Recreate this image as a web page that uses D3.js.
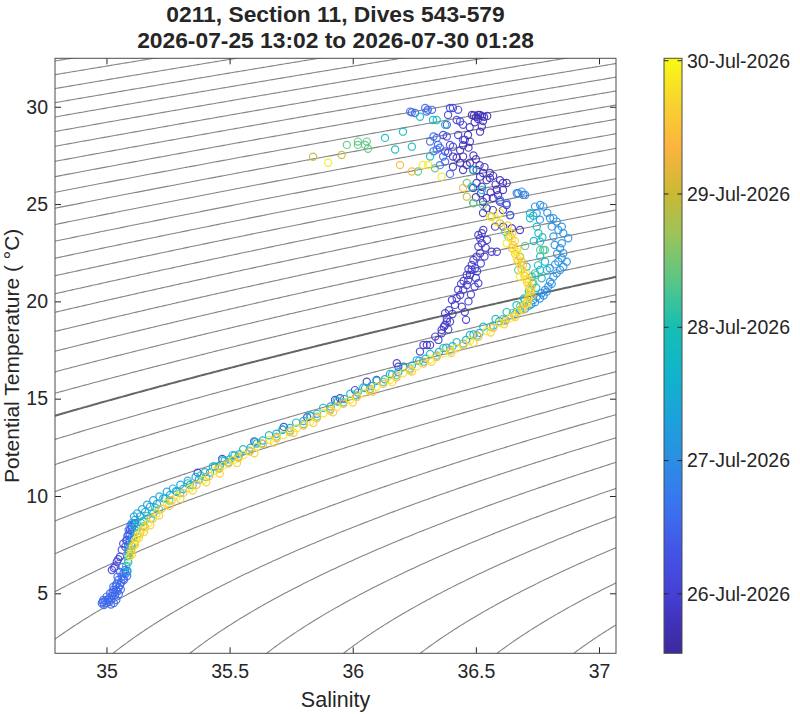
<!DOCTYPE html>
<html>
<head>
<meta charset="utf-8">
<script src="https://cdn.jsdelivr.net/npm/d3@7"></script>
<style>
  body { margin: 0; background: #fff; }
  text { font-family: "Liberation Sans", Arial, Helvetica, sans-serif; fill: #262626; }
</style>
</head>
<body>
<svg id="chart" width="800" height="714"></svg>
<script>
// titles / labels
const titleLines = ["0211, Section 11, Dives 543-579", "2026-07-25 13:02 to 2026-07-30 01:28"];
const xLabel = "Salinity";
const yLabel = "Potential Temperature ( \u00B0C)";

// axes
const salTicks = [35, 35.5, 36, 36.5, 37];
const tempTicks = [5, 10, 15, 20, 25, 30];
const salRange = [34.791, 37.069];
const tempRange = [1.917, 32.49];

// colorbar (time)
const cbarRange = ["2026-07-25T13:18", "2026-07-30T00:26"];
const cbarTicks = ["2026-07-26T00:00", "2026-07-27T00:00", "2026-07-28T00:00", "2026-07-29T00:00", "2026-07-30T00:00"];

// density contours (sigma-theta)
const sigmaLevels = d3.range(20, 30.01, 0.25);
const sigmaBold = 26;

// observations, grouped by dive time : [salinity, potential temperature]
const timeP0 = "2026-07-25T18:40";
const diveP0 = [
  [36.484,29.58],[36.492,29.55],[36.501,29.48],[36.509,29.58],[36.517,29.58],[36.525,29.52],[36.533,29.48],
  [36.546,29.53],[36.509,29.37],[36.529,29.27],[36.524,28.98],[36.517,28.72],[36.476,28.21],[36.468,28.55],
  [36.448,28.02],[36.436,27.76],[36.407,27.44],[36.422,27.38],[36.448,27.44],[36.436,27.12],[36.463,27.01],
  [36.476,27.12],[36.407,26.92],[36.448,26.75],[36.489,26.75],[36.503,26.75],[36.529,26.60],[36.557,26.60],
  [36.517,26.41],[36.544,26.23],[36.557,26.34],[36.598,26.23],[36.610,26.08],[36.625,26.08],[36.503,26.08],
  [36.524,25.89],[36.489,25.83],[36.585,25.72],[36.610,25.72],[36.544,25.31],[36.569,25.31],[36.598,25.12],
  [36.625,24.95],[36.529,25.12],[36.544,24.79],[36.529,24.54],[36.569,24.69],[36.610,24.69],[36.639,24.43],
  [36.578,23.84],[36.611,23.84],[36.646,23.76],[36.679,23.67],
  [36.455,28.30],[36.470,27.90],[36.490,27.50],[36.500,27.30],[36.515,27.00],[36.535,26.90],[36.570,26.45],
  [36.580,26.00],[36.560,25.60],[36.590,25.45],[36.520,25.55],[36.500,25.35],[36.475,28.95],[36.495,29.20]
];

const timeP1 = "2026-07-25T22:00";
const diveP1 = [
  [36.530,23.67],[36.524,23.50],[36.510,23.41],[36.517,23.24],[36.524,22.99],[36.510,22.81],[36.517,22.47],
  [36.503,22.30],[36.490,22.13],[36.483,21.87],[36.497,21.70],[36.483,21.62],[36.476,21.36],[36.463,21.36],
  [36.469,21.10],[36.463,20.84],[36.449,20.59],[36.436,20.33],[36.422,20.16],[36.415,19.82],[36.443,19.73],
  [36.403,20.07],[36.428,20.60],[36.391,19.55],[36.375,19.39],[36.382,19.13],[36.375,18.79],[36.361,18.36],
  [36.335,18.19],[36.301,17.76],[36.510,20.93],[36.564,22.55],[36.585,22.55],
  [36.455,19.45],[36.470,20.00],[36.480,20.35],[36.495,20.75],[36.500,21.20],[36.505,21.55],[36.520,21.95],
  [36.535,22.30],[36.540,22.75],[36.545,23.15],[36.450,21.05],[36.440,20.90],[36.470,21.65],[36.460,19.05],
  [36.405,19.35],[36.395,18.95],[36.388,18.55],
  [36.382,18.96],[36.370,18.70],[36.361,18.53],[36.348,18.02],[36.314,17.76],[36.287,17.76],[36.273,17.42],
  [36.206,16.64],[36.185,16.64],[36.179,16.82],[36.097,15.96],[36.057,15.87],[36.009,15.44],[35.948,15.02],
  [35.928,14.93],[35.815,14.05],[35.720,13.55],[35.600,12.80],[35.470,11.90],[35.370,11.20]
];

const timeP2 = "2026-07-26T02:10";
const diveP2 = [
  [35.022,6.20],[35.030,6.30],[35.035,6.37],[35.042,6.62],[35.055,6.88],[35.062,7.23],[35.076,7.39],
  [35.082,7.74],[35.089,8.00],[35.096,8.25],[35.103,8.42],[35.116,8.60],[35.048,6.75],[35.068,7.55],
  [36.395,29.94],[36.407,29.94],[36.428,29.84],[36.387,29.58],[36.422,29.32],[36.436,29.24],[36.448,29.07],
  [36.382,29.07],[36.367,28.55],[36.382,28.47],[36.428,28.55],[36.395,28.04],[36.375,27.70],[36.387,27.63],
  [36.407,27.95],[36.448,28.30]
];

const timeB0 = "2026-07-26T13:00";
const diveB0 = [
  [36.233,29.75],[36.240,29.72],[36.253,29.68],[36.294,29.94],[36.300,29.75],[36.305,29.85],[36.322,29.84],
  [36.328,28.47],[36.341,28.40],[36.314,28.21],[36.346,28.04],[36.341,27.80],[36.328,27.71],[36.354,27.89],
  [36.375,27.18],[36.367,27.44],[36.354,27.00],[36.395,26.55],
  [36.598,25.21],[36.625,25.04],[36.639,24.44],[36.666,25.56],[36.693,25.47],
  [34.981,4.49],[34.985,4.55],[34.987,4.66],[34.995,4.60],[35.001,4.83],[35.006,4.66],[35.010,4.75],
  [35.015,5.00],[35.023,4.86],[35.028,5.17],[35.028,5.34],[35.033,5.05],[35.039,5.17],[35.042,5.51],
  [35.048,5.68],[35.055,5.43],[35.062,5.85],[35.069,6.03],[35.071,5.68],[35.076,6.20],[35.084,5.89],
  [34.990,4.40],[35.000,4.50],[35.012,4.55],[35.020,4.70],[35.035,4.90],[35.045,5.10],[35.050,5.30],
  [35.060,5.55],[35.068,5.75],[35.078,6.00],[35.085,6.15],[35.045,5.85],[35.055,6.10],[35.065,6.35],
  [35.050,4.95],[35.040,4.65],[35.030,4.50],[35.018,4.42],[35.058,5.20],[35.038,5.40],[35.025,5.05],
  [35.088,7.48],[35.094,7.70],[35.100,7.84],[35.095,8.05],[35.103,8.30],[35.110,8.55],[35.085,7.95],
  [35.090,8.25],[35.098,8.50],[35.080,7.70]
];

const timeB1 = "2026-07-27T00:45";
const diveB1 = [
  [36.672,25.56],[36.686,25.64],[36.700,25.47],[36.740,24.87],[36.761,24.95],[36.774,24.87],[36.747,24.53],
  [36.801,24.27],[36.815,24.27],[36.828,24.10],[36.808,23.84],[36.849,23.84],[36.835,23.67],[36.855,23.50],
  [36.875,23.24],[36.815,23.33],[36.849,22.99],[36.842,22.73],[36.855,22.47],[36.849,22.22],[36.835,22.04],
  [36.869,22.04],[36.855,21.78],[36.842,21.61],[36.828,21.44],[36.815,21.27],[36.801,21.01],[36.794,20.76],
  [36.781,20.59],[36.767,20.42],[36.747,20.24],[36.733,20.07],[36.740,19.95],[36.725,19.85],[36.808,20.90],
  [36.788,20.50],[36.760,20.15],[36.775,20.30],[36.830,22.45],[36.820,22.90],[36.800,21.70],[36.822,21.90],
  [36.790,24.55],[36.760,24.20]
];

const timeB2 = "2026-07-27T08:10";
const diveB2 = [
  [35.103,8.60],[35.116,8.77],[35.136,8.94],[35.157,9.18],[35.177,9.45],[35.205,9.59],[35.231,9.88],
  [35.258,10.05],[35.285,10.22],[35.311,10.36],[35.339,10.57],[35.375,10.85],[35.420,11.20],[35.460,11.55],
  [35.500,11.88],[35.540,12.15],[35.585,12.48],[35.635,12.85],[35.690,13.20],[35.745,13.50],[35.800,13.85],
  [35.855,14.22],[35.910,14.60],[35.965,14.98],[36.020,15.32],[36.075,15.65],[36.130,16.00],[36.185,16.36],
  [36.240,16.70],[36.295,17.05],[36.350,17.40],[36.405,17.70],[36.460,18.02],[36.515,18.38],[36.570,18.75],
  [36.620,19.05],[36.660,19.35],[36.700,19.62],[35.090,7.20],[35.085,6.90],
  [35.112,8.95],[35.125,9.10],[35.145,9.32],[35.165,9.55],[35.190,9.78],[35.215,9.98],[35.245,10.22],
  [35.270,10.38],[35.300,10.58],[35.330,10.78],[35.362,10.98],[35.400,11.22],[35.440,11.52],[35.480,11.82],
  [35.520,12.08],[35.610,12.70],[35.715,13.40],[35.830,14.10],[35.940,14.85],[36.050,15.55],[36.160,16.25],
  [36.270,16.95],[36.380,17.62],[36.490,18.30],[36.595,18.98],[36.680,19.55],[36.715,19.78]
];

const timeC = "2026-07-27T19:00";
const diveC = [
  [36.326,29.32],[36.341,29.32],[36.375,29.07],[36.273,29.49],
  [36.204,28.72],[36.131,28.40],[36.172,27.80],[36.240,27.95],[36.314,27.44],[36.483,25.89],[36.524,25.72],
  [36.720,24.53],[36.489,26.75],[36.706,21.78],
  [36.747,23.84],[36.754,23.50],[36.761,23.07],[36.774,22.64],[36.761,22.30],[36.781,22.04],[36.788,21.61],
  [36.761,21.61],[36.767,21.19],[36.740,21.44],[36.727,21.27],[36.733,24.40],[36.720,24.27],
  [35.080,6.40],[35.092,7.07],[35.100,7.43],[35.108,7.84],[35.120,8.20],[35.140,8.62],[35.165,8.98],
  [35.198,9.40],[35.238,9.88],[35.282,10.25],[35.330,10.65],[35.382,11.05],[35.432,11.52],[35.470,11.82],
  [35.512,12.10],[35.555,12.40],[35.605,12.78],[35.660,13.12],[35.715,13.42],[35.770,13.77],[35.826,14.13],
  [35.880,14.53],[35.935,14.90],[35.990,15.25],[36.043,15.58],[36.097,15.92],[36.151,16.27],[36.205,16.62],
  [36.260,16.97],[36.314,17.30],[36.368,17.60],[36.422,17.90],[36.476,18.27],[36.530,18.70],[36.580,19.10],
  [36.625,19.45],[36.665,19.80],[36.695,20.15],[36.715,20.50],[36.730,20.90],
  [35.084,6.10],[35.088,6.60],[35.120,8.45],[35.150,8.70],[35.190,9.10],[36.745,20.70],[36.752,21.85],
  [36.770,23.30],[36.735,23.10]
];

const timeG = "2026-07-28T08:50";
const diveG = [
  [36.021,28.21],[36.057,28.21],[36.021,28.04],[36.050,28.04],[36.062,27.84],[35.976,28.04],[36.265,26.67],
  [36.334,26.84],[36.463,26.08],[36.489,25.06],[36.529,24.95],[36.490,25.04],[36.619,23.58],[36.632,23.33],
  [36.679,22.30],[36.672,21.61],[36.700,22.85],[36.761,22.64],[36.781,22.64],
  [35.088,6.71],[35.100,7.20],[35.112,7.60],[35.126,8.05],[35.150,8.45],[35.180,8.85],[35.214,9.30],
  [35.255,9.77],[35.300,10.15],[35.350,10.55],[35.405,10.98],[35.455,11.42],[35.495,11.73],[35.535,12.02],
  [35.580,12.33],[35.630,12.70],[35.690,13.05],[35.745,13.36],[35.800,13.70],[35.855,14.08],[35.910,14.47],
  [35.962,14.82],[36.016,15.16],[36.070,15.50],[36.124,15.86],[36.178,16.20],[36.232,16.55],[36.287,16.90],
  [36.341,17.22],[36.395,17.52],[36.449,17.83],[36.505,18.25],[36.560,18.70],[36.610,19.10],[36.650,19.40],
  [36.680,19.75],[36.700,20.10],[36.722,20.55],[36.733,20.95],[36.745,21.35],[35.094,6.95],[35.104,7.40]
];

const timeOl = "2026-07-28T23:00";
const diveOl = [
  [35.839,27.43],[35.955,27.52],[36.463,25.38],[36.564,24.35],[36.598,24.01]
];

const timeO = "2026-07-29T08:30";
const diveO = [
  [36.192,27.01],[36.240,26.67],[36.448,25.83],[36.646,22.73],[36.686,22.04],
  [35.100,7.15],[35.114,7.55],[35.136,8.08],[35.157,8.40],[35.187,8.83],[35.224,9.35],[35.265,9.78],
  [35.312,10.16],[35.366,10.58],[35.417,11.03],[35.458,11.40],[35.495,11.67],[35.536,11.95],[35.583,12.28],
  [35.637,12.68],[35.691,12.97],[35.745,13.27],[35.800,13.62],[35.854,14.00],[35.908,14.38],[35.962,14.74],
  [36.016,15.08],[36.070,15.42],[36.124,15.76],[36.178,16.10],[36.232,16.45],[36.287,16.80],[36.341,17.14],
  [36.395,17.43],[36.449,17.74],[36.510,18.18],[36.571,18.64],[36.619,18.98],[36.656,19.27],[36.688,19.62],
  [36.709,19.98],[36.718,20.33],[36.717,20.67],[36.708,21.00],[36.698,21.30],[36.686,21.65],[36.670,22.05],
  [36.660,22.44],[36.650,22.90],[36.640,23.35]
];

const timeY2 = "2026-07-29T15:00";
const diveY2 = [
  [35.104,7.00],[35.116,7.50],[35.132,7.85],[35.152,8.15],[35.178,8.50],[35.214,9.00],[35.255,9.50],
  [35.300,9.85],[35.350,10.28],[35.405,10.70],[35.460,11.15],[35.530,11.70],[35.600,12.20],[35.680,12.75],
  [35.760,13.25],[35.840,13.75],[35.920,14.30],[36.000,14.80],[36.080,15.35],[36.160,15.85],[36.240,16.40],
  [36.320,16.90],[36.400,17.35],[36.490,17.88],[36.560,18.40],[36.615,18.82],[36.660,19.20],[36.690,19.55],
  [36.712,19.90],[36.726,20.30],[36.726,20.70],[36.716,21.10],[36.705,21.45],[36.692,21.85],[36.680,22.25],
  [36.668,22.70],[36.658,23.10],[36.648,23.50],[36.630,23.90]
];

const timeY = "2026-07-29T21:00";
const diveY = [
  [35.900,27.12],[36.285,27.01],[36.306,27.01],[36.361,26.41],[36.557,24.35],[36.598,24.54],[36.585,24.10],
  [36.625,22.99],[36.666,22.55],[36.679,21.27],
  [35.096,6.92],[35.108,7.39],[35.121,7.74],[35.128,7.94],[35.145,8.25],[35.170,8.60],[35.204,9.11],
  [35.245,9.63],[35.285,9.96],[35.339,10.40],[35.393,10.82],[35.441,11.30],[35.475,11.56],[35.515,11.85],
  [35.556,12.11],[35.610,12.53],[35.664,12.88],[35.718,13.13],[35.773,13.48],[35.827,13.82],[35.881,14.25],
  [35.935,14.59],[35.989,14.94],[36.043,15.28],[36.097,15.62],[36.151,15.96],[36.205,16.31],[36.260,16.65],
  [36.314,17.01],[36.368,17.33],[36.422,17.59],[36.476,17.97],[36.544,18.48],[36.598,18.88],[36.639,19.13],
  [36.672,19.47],[36.700,19.82],[36.713,20.16],[36.720,20.50],[36.713,20.84],[36.704,21.14],[36.693,21.44],
  [36.679,21.87],[36.666,22.23],[36.655,22.64],[36.646,23.16],[36.631,23.57]
];

// parula-like colormap stops
const parulaStops = [0, 0.05, 0.10, 0.17, 0.25, 0.325, 0.40, 0.47, 0.55, 0.62, 0.70, 0.77, 0.85, 0.92, 1];
const parulaHex = ["#3b2a9c","#4031b8","#4640d5","#4354e6","#3a74f0","#2b8ee4","#1ca3da","#10b4cb",
                   "#17beb3","#53c68a","#99c45c","#c9b934","#fcb43f","#f8d030","#f9fa14"];

// ---------------------------------------------------------------
const parseTime = d3.timeParse("%Y-%m-%dT%H:%M");
const svg = d3.select("#chart");

const plot = { left: 55, right: 616, top: 58.3, bottom: 653.3 };

const x = d3.scaleLinear().domain(salRange).range([plot.left, plot.right]);
const y = d3.scaleLinear().domain(tempRange).range([plot.bottom, plot.top]);

const tScale = d3.scaleTime().domain(cbarRange.map(parseTime)).range([0, 1]).clamp(true);
const parula = d3.scaleLinear().domain(parulaStops).range(parulaHex).interpolate(d3.interpolateRgb);
const color = t => parula(tScale(t));

// UNESCO 1980 density at p = 0, minus 1000
function sigma0(S, T) {
  const T2 = T * T, T3 = T2 * T, T4 = T3 * T, T5 = T4 * T;
  const rw = 999.842594 + 6.793952e-2 * T - 9.095290e-3 * T2 + 1.001685e-4 * T3
           - 1.120083e-6 * T4 + 6.536332e-9 * T5;
  const A = 8.24493e-1 - 4.0899e-3 * T + 7.6438e-5 * T2 - 8.2467e-7 * T3 + 5.3875e-9 * T4;
  const B = -5.72466e-3 + 1.0227e-4 * T - 1.6546e-6 * T2;
  return rw + A * S + B * Math.pow(S, 1.5) + 4.8314e-4 * S * S - 1000;
}

svg.append("defs").append("clipPath").attr("id", "plotClip")
  .append("rect")
  .attr("x", plot.left).attr("y", plot.top)
  .attr("width", plot.right - plot.left).attr("height", plot.bottom - plot.top);

// contour grid, a bit wider than the axes so edge segments get clipped away
const nS = 260, nT = 340;
const gS0 = 34.6, gS1 = 37.3, gT0 = 0.5, gT1 = 34;
const dS = (gS1 - gS0) / (nS - 1), dT = (gT1 - gT0) / (nT - 1);
const grid = new Float64Array(nS * nT);
for (let j = 0; j < nT; j++)
  for (let i = 0; i < nS; i++)
    grid[i + j * nS] = sigma0(gS0 + i * dS, gT0 + j * dT);

const contours = d3.contours().size([nS, nT]).thresholds(sigmaLevels)(grid);
const gridPath = d3.geoPath(d3.geoTransform({
  point(px, py) { this.stream.point(x(gS0 + (px - 0.5) * dS), y(gT0 + (py - 0.5) * dT)); }
}));

svg.append("g").attr("clip-path", "url(#plotClip)")
  .selectAll("path")
  .data(contours)
  .join("path")
  .attr("d", gridPath)
  .attr("fill", "none")
  .attr("stroke", d => d.value === sigmaBold ? "#666666" : "#858585")
  .attr("stroke-width", d => d.value === sigmaBold ? 2 : 1.1);

// scatter
const groups = [
  [timeP0, diveP0], [timeP1, diveP1], [timeP2, diveP2], [timeB0, diveB0], [timeB1, diveB1],
  [timeB2, diveB2], [timeC, diveC], [timeG, diveG], [timeOl, diveOl], [timeO, diveO],
  [timeY2, diveY2], [timeY, diveY]
].map(([t, pts]) => ({ t: parseTime(t), pts }));

const pts = groups.flatMap(g => g.pts.map(p => ({ s: p[0], th: p[1], t: g.t })));

svg.append("g").attr("clip-path", "url(#plotClip)")
  .selectAll("circle")
  .data(pts)
  .join("circle")
  .attr("cx", d => x(d.s))
  .attr("cy", d => y(d.th))
  .attr("r", 3.6)
  .attr("fill", "none")
  .attr("stroke", d => color(d.t))
  .attr("stroke-width", 1.2)
  .attr("stroke-opacity", 0.9);

// axes (ticks inside, box on)
const tickLen = 6;
function styleAxis(g) {
  g.select(".domain").remove();
  g.selectAll(".tick line").attr("stroke", "#262626");
  g.selectAll(".tick text").attr("fill", "#262626").style("font-size", "19.5px")
    .style("font-family", '"Liberation Sans", Arial, sans-serif');
}
svg.append("g").attr("transform", `translate(0,${plot.bottom})`)
  .call(d3.axisBottom(x).tickValues(salTicks).tickFormat(d => d).tickSize(-tickLen).tickPadding(11))
  .call(styleAxis);
svg.append("g").attr("transform", `translate(0,${plot.top})`)
  .call(d3.axisTop(x).tickValues(salTicks).tickFormat("").tickSize(-tickLen))
  .call(styleAxis);
svg.append("g").attr("transform", `translate(${plot.left},0)`)
  .call(d3.axisLeft(y).tickValues(tempTicks).tickFormat(d => d).tickSize(-tickLen).tickPadding(7))
  .call(styleAxis);
svg.append("g").attr("transform", `translate(${plot.right},0)`)
  .call(d3.axisRight(y).tickValues(tempTicks).tickFormat("").tickSize(-tickLen))
  .call(styleAxis);

svg.append("rect")
  .attr("x", plot.left).attr("y", plot.top)
  .attr("width", plot.right - plot.left).attr("height", plot.bottom - plot.top)
  .attr("fill", "none").attr("stroke", "#4d4d4d").attr("stroke-width", 1);

// labels
const cx = (plot.left + plot.right) / 2;
svg.append("text").attr("x", cx).attr("y", 707).attr("text-anchor", "middle")
  .style("font-size", "21.5px").text(xLabel);
svg.append("text").attr("transform", "rotate(-90)")
  .attr("x", -(plot.top + plot.bottom) / 2).attr("y", 19).attr("text-anchor", "middle")
  .style("font-size", "21px").text(yLabel);

svg.selectAll(".title").data(titleLines).join("text")
  .attr("class", "title")
  .attr("x", cx).attr("y", (d, i) => 22 + i * 26)
  .attr("text-anchor", "middle")
  .style("font-size", "22.8px").style("font-weight", "bold")
  .text(d => d);

// colorbar
const cb = { x: 664, w: 18 };
const cbY = d3.scaleTime().domain(cbarRange.map(parseTime)).range([plot.bottom, plot.top]);

const grad = svg.select("defs").append("linearGradient")
  .attr("id", "parulaGrad").attr("x1", 0).attr("y1", 1).attr("x2", 0).attr("y2", 0);
grad.selectAll("stop").data(parulaStops).join("stop")
  .attr("offset", d => d)
  .attr("stop-color", (d, i) => parulaHex[i]);

svg.append("rect")
  .attr("x", cb.x).attr("y", plot.top)
  .attr("width", cb.w).attr("height", plot.bottom - plot.top)
  .attr("fill", "url(#parulaGrad)")
  .attr("stroke", "#4d4d4d").attr("stroke-width", 1);

const cbTickDates = cbarTicks.map(parseTime);
const cbTicks = svg.append("g").selectAll("g").data(cbTickDates).join("g")
  .attr("transform", d => `translate(0,${cbY(d)})`);
cbTicks.append("line").attr("x1", cb.x).attr("x2", cb.x + 4.5).attr("stroke", "#262626");
cbTicks.append("line").attr("x1", cb.x + cb.w - 4.5).attr("x2", cb.x + cb.w).attr("stroke", "#262626");
cbTicks.append("text")
  .attr("x", cb.x + cb.w + 5).attr("dy", "0.35em")
  .style("font-size", "19.5px")
  .text(d3.timeFormat("%d-%b-%Y"));
</script>
</body>
</html>
